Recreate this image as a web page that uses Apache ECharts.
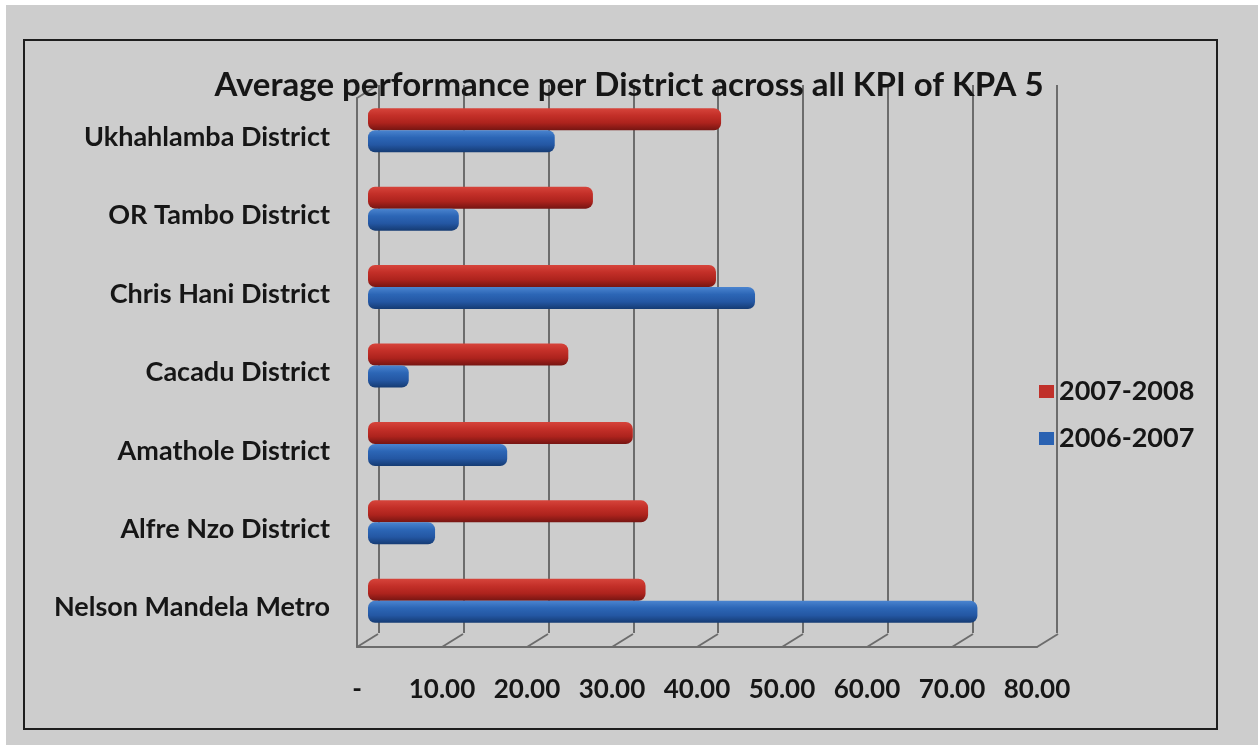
<!DOCTYPE html>
<html><head><meta charset="utf-8">
<script src="https://cdn.jsdelivr.net/npm/echarts@6/dist/echarts.min.js"></script>
<style>html,body{margin:0;padding:0;background:#fff;} #c{width:1258px;height:745px;}</style>
</head><body><div id="c"></div>
<script>
const categories = ['Ukhahlamba District','OR Tambo District','Chris Hani District','Cacadu District','Amathole District','Alfre Nzo District','Nelson Mandela Metro'];
const series0708 = [41.6, 26.5, 41.0, 23.6, 31.2, 33.0, 32.7];
const series0607 = [22.0, 10.7, 45.6, 4.8, 16.4, 7.9, 71.8];
const xTicks = [0, 10, 20, 30, 40, 50, 60, 70, 80];
const legendNames = ['2007-2008', '2006-2007'];

const chart = echarts.init(document.getElementById('c'), null, {renderer: 'canvas'});
const DX = 21, DY = -13;
const GRID = '#6c6c6c';
const FONT = 'Lato';
const TXT = '#161616';

function grad(stops) {
  return new echarts.graphic.LinearGradient(0, 0, 0, 1, stops.map((c, i) => ({offset: i / (stops.length - 1), color: c})));
}
const redGrad = grad(['#d6443b', '#c32f28', '#ad231d', '#761512']);
const blueGrad = grad(['#4a84cf', '#2c66b6', '#2457a3', '#153b73']);

const option = {
  backgroundColor: '#ffffff',
  animation: false,
  graphic: [
    {type: 'rect', shape: {x: 6, y: 5, width: 1252, height: 740}, style: {fill: '#cdcdcd'}, z: -10, silent: true},
    {type: 'rect', shape: {x: 24, y: 40, width: 1193, height: 689}, style: {fill: 'none', stroke: '#1e1e1e', lineWidth: 2}, z: -9, silent: true}
  ],
  title: {
    text: 'Average performance per District across all KPI of KPA 5',
    left: 'center', top: 64,
    textStyle: {fontFamily: FONT, fontWeight: 'bold', fontSize: 33, color: TXT}
  },
  legend: {
    orient: 'vertical', left: 1034, top: 373,
    data: [
      {name: legendNames[0], itemStyle: {color: '#c0302a'}},
      {name: legendNames[1], itemStyle: {color: '#2a62b2'}}
    ],
    icon: 'rect', itemWidth: 15, itemHeight: 13, itemGap: 20,
    textStyle: {fontFamily: FONT, fontWeight: 'bold', fontSize: 27, color: TXT}
  },
  grid: [
    {left: 379, right: 201, top: 85, bottom: 112},
    {left: 368, right: 211, top: 91, bottom: 105},
    {left: 357, right: 221, top: 98, bottom: 98}
  ],
  xAxis: [
    {gridIndex: 0, type: 'value', min: 0, max: 80, interval: 10,
      axisLine: {show: false}, axisTick: {show: false}, axisLabel: {show: false},
      splitLine: {show: true, lineStyle: {color: GRID, width: 2}}},
    {gridIndex: 1, type: 'value', min: 0, max: 80, interval: 10, show: false},
    {gridIndex: 2, type: 'value', min: 0, max: 80, interval: 10,
      axisLine: {show: true, lineStyle: {color: GRID, width: 2}},
      axisTick: {show: false}, splitLine: {show: false},
      axisLabel: {margin: 30, formatter: v => v === 0 ? '-' : v.toFixed(2),
        fontFamily: FONT, fontWeight: 'bold', fontSize: 26, color: TXT}}
  ],
  yAxis: [
    {gridIndex: 0, type: 'category', data: categories, inverse: true, show: false},
    {gridIndex: 1, type: 'category', data: categories, inverse: true, show: false},
    {gridIndex: 2, type: 'category', data: categories, inverse: true,
      axisLine: {show: true, lineStyle: {color: GRID, width: 2}},
      axisTick: {show: false}, splitLine: {show: false},
      axisLabel: {margin: 27, padding: [6, 0, 0, 0], fontFamily: FONT, fontWeight: 'bold', fontSize: 27, color: TXT}}
  ],
  series: [
    {name: legendNames[0], type: 'bar', xAxisIndex: 1, yAxisIndex: 1, data: series0708,
      barWidth: 22, barGap: '0%', itemStyle: {color: redGrad, borderRadius: 7}, z: 3},
    {name: legendNames[1], type: 'bar', xAxisIndex: 1, yAxisIndex: 1, data: series0607,
      barWidth: 22, barGap: '0%', itemStyle: {color: blueGrad, borderRadius: 7}, z: 3},
    {type: 'custom', xAxisIndex: 2, yAxisIndex: 2, silent: true, z: 1,
      encode: {x: 0, y: 1},
      data: xTicks.map(v => [v, 0]),
      renderItem: (params, api) => {
        const cs = params.coordSys;
        const x = api.coord([api.value(0), 0])[0];
        const yb = cs.y + cs.height;
        const children = [{type: 'line', shape: {x1: x, y1: yb, x2: x + DX, y2: yb + DY},
          style: {stroke: GRID, lineWidth: 2}}];
        if (api.value(0) === 0) {
          children.push({type: 'line', shape: {x1: cs.x, y1: cs.y, x2: cs.x + DX, y2: cs.y + DY},
            style: {stroke: GRID, lineWidth: 2}});
        }
        return {type: 'group', children: children};
      }}
  ]
};
chart.setOption(option);
</script></body></html>
